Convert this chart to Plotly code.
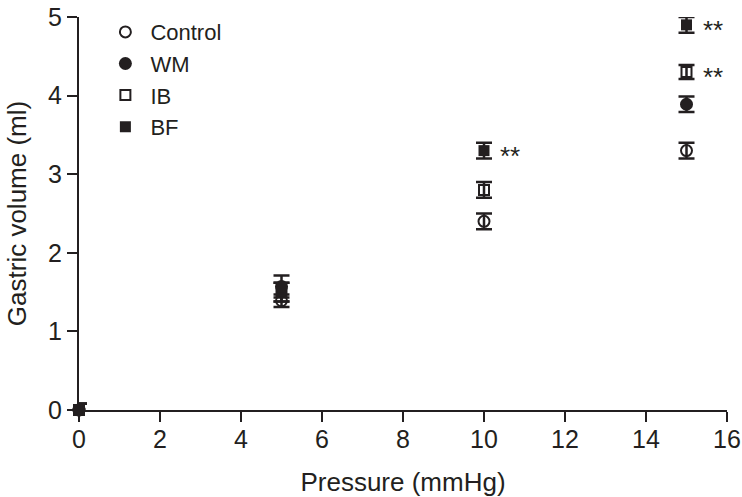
import plotly.graph_objects as go

pressure = [0, 5, 10, 15]
control = [0, 1.39, 2.40, 3.30]
control_err = [0.08, 0.08, 0.10, 0.10]
wm = [0, 1.57, None, 3.89]
wm_err = [0.08, 0.14, 0.0, 0.10]
ib = [0, 1.50, 2.80, 4.30]
ib_err = [0.08, 0.12, 0.10, 0.09]
bf = [0, 1.50, 3.30, 4.90]
bf_err = [0.08, 0.12, 0.10, 0.10]

sig_x = [10, 15, 15]
sig_y = [3.30, 4.90, 4.30]
sig_text = ["**", "**", "**"]

INK = "#231f20"
FONT = "Liberation Sans, Arial, Helvetica"

fig = go.Figure()
# drawn bottom-to-top; legend shown reversed (Control, WM, IB, BF)
series = [
    ("BF", bf, bf_err, "square", 11, 0),
    ("IB", ib, ib_err, "square-open", 10, 2),
    ("WM", wm, wm_err, "circle", 13, 0),
    ("Control", control, control_err, "circle-open", 11, 2),
]
for name, ys, errs, sym, sz, lw in series:
    fig.add_trace(go.Scatter(
        x=pressure, y=ys, name=name, mode="markers",
        marker=dict(symbol=sym, size=sz, color=INK,
                    line=dict(color=INK, width=lw)),
        error_y=dict(type="data", array=errs, visible=True,
                     color=INK, thickness=2.5, width=8),
        cliponaxis=False,
    ))

for xv, yv, t in zip(sig_x, sig_y, sig_text):
    fig.add_annotation(x=xv, y=yv, text=t, showarrow=False,
                       xanchor="left", yanchor="middle", xshift=14, yshift=-5,
                       font=dict(size=26, color=INK, family=FONT))

axis_common = dict(showline=True, linecolor=INK, linewidth=2,
                   ticks="outside", ticklen=10, tickwidth=2, tickcolor=INK,
                   showgrid=False, zeroline=False, automargin=False,
                   tickfont=dict(size=25, color=INK, family=FONT))
fig.update_xaxes(range=[0, 16], dtick=2, tick0=0, ticklabelstandoff=-4,
                 title=dict(text="Pressure (mmHg)", font=dict(size=26, color=INK, family=FONT), standoff=22),
                 **axis_common)
fig.update_yaxes(range=[0, 5], dtick=1, tick0=0, ticklabelstandoff=0,
                 title=dict(text="Gastric volume (ml)", font=dict(size=26, color=INK, family=FONT), standoff=14),
                 **axis_common)

fig.update_layout(
    width=742, height=497,
    margin=dict(l=79, r=15, t=11, b=87),
    paper_bgcolor="white", plot_bgcolor="white",
    font=dict(family=FONT, color=INK),
    showlegend=True,
    legend=dict(x=0.033, y=1.015, xanchor="left", yanchor="top",
                font=dict(size=22, color=INK, family=FONT), traceorder="reversed",
                bgcolor="rgba(0,0,0,0)", itemwidth=40, tracegroupgap=0),
)
fig.write_html("out.html", config={"displayModeBar": False},
               post_script="document.body.style.margin='0';")
